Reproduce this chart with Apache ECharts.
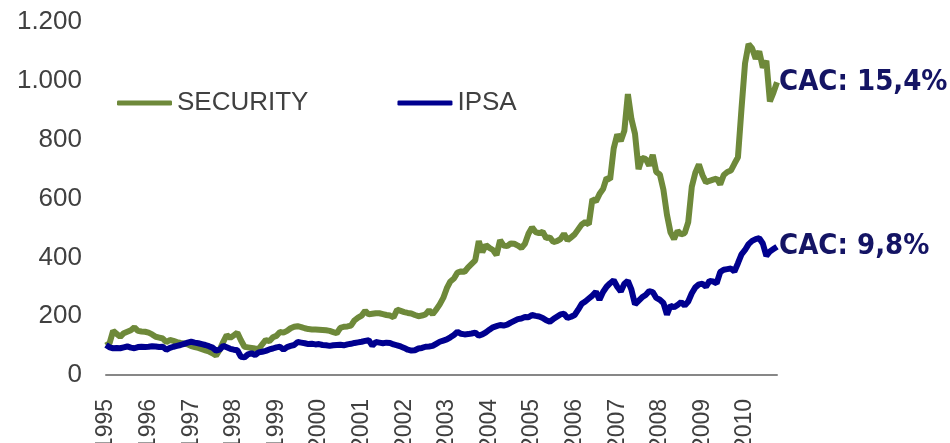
<!DOCTYPE html>
<html>
<head>
<meta charset="utf-8">
<script src="https://cdn.jsdelivr.net/npm/echarts@6/dist/echarts.min.js"></script>
<style>
  html, body { margin: 0; padding: 0; background: #fff; }
  #chart { width: 950px; height: 443px; }
</style>
</head>
<body>
<div id="chart"></div>
<script>
// Monthly categories, Jan 1995 .. Oct 2010
const months = [];
for (let y = 1995; y <= 2010; y++) {
    for (let m = 1; m <= 12; m++) {
        if (y === 2010 && m > 10) break;
        months.push(y + '-' + String(m).padStart(2, '0'));
    }
}

// Index values (base 100)
const security = [
    100, 108, 150, 140, 130, 142, 147, 152, 162, 150, 148, 147,
    144, 138, 130, 127, 124, 112, 119, 116, 112, 109, 107, 104,
    98, 95, 92, 88, 84, 80, 74, 66, 85, 112, 136, 126,
    135, 144, 118, 96, 94, 92, 90, 89, 104, 119, 115, 128,
    133, 146, 144, 150, 159, 164, 166, 163, 159, 156, 155, 155,
    154, 153, 152, 150, 146, 142, 160, 164, 165, 168, 186, 195,
    202, 218, 206, 208, 210, 210, 207, 204, 202, 196, 222, 218,
    214, 211, 209, 204, 200, 202, 206, 220, 207, 222, 240, 262,
    295, 318, 328, 348, 352, 351, 366, 378, 390, 455, 418, 442,
    432, 425, 408, 458, 440, 438, 447, 446, 440, 432, 446, 480,
    502, 486, 482, 487, 465, 468, 452, 455, 462, 480, 458, 468,
    478, 495, 512, 520, 512, 598, 590, 615, 632, 670, 665, 770,
    818, 795, 830, 955, 870, 820, 700, 738, 735, 712, 748, 690,
    682, 630, 545, 485, 462, 490, 478, 482, 520, 640, 688, 716,
    680, 655, 660, 664, 668, 648, 680, 690, 695, 718, 740, 905,
    1060, 1125, 1110, 1075, 1100, 1045, 1068, 930, 960, 995
];
const ipsa = [
    102, 94, 91, 92, 91, 94, 97, 93, 91, 95, 96, 95,
    96, 98, 97, 95, 96, 86, 92, 96, 99, 102, 106, 110,
    113, 110, 108, 105, 102, 98, 93, 83, 86, 99, 94, 89,
    86, 84, 62, 60, 70, 74, 68, 77, 79, 82, 87, 90,
    94, 96, 86, 95, 99, 102, 112, 110, 108, 105, 106, 104,
    105, 102, 101, 99, 101, 102, 103, 101, 104, 106, 109, 111,
    113, 116, 118, 100, 112, 110, 108, 110, 109, 104, 101, 97,
    92, 86, 83, 84, 90, 92, 96, 97, 99, 106, 113, 117,
    121, 128, 136, 147, 140, 138, 139, 141, 144, 134, 138, 145,
    154, 162, 166, 170, 168, 171, 178, 184, 190, 192, 197, 196,
    204, 201, 199, 194, 186, 181, 190, 198, 206, 208, 194, 198,
    204, 222, 242, 250, 260, 270, 283, 256, 282, 300, 312, 322,
    300, 284, 310, 320, 290, 240, 252, 264, 272, 285, 282, 262,
    256, 245, 205, 236, 230, 238, 248, 236, 250, 278, 298, 308,
    310, 300, 320, 318, 312, 350, 358, 360, 362, 352, 380, 410,
    425, 445, 456, 462, 465, 447, 405, 420, 428, 436
];

const seriesNames = ['SECURITY', 'IPSA'];
const endNotes = ['CAC: 15,4%', 'CAC: 9,8%'];
const yTicks = [0, 200, 400, 600, 800, 1000, 1200];

const FONT = "'Liberation Sans', Arial, sans-serif";
const NOTE_FONT = "'DejaVu Sans Condensed', 'DejaVu Sans', sans-serif";
const GREEN = '#6E893A';
const NAVY = '#00008F';

const chart = echarts.init(document.getElementById('chart'));

const option = {
    animation: false,
    grid: {
        left: 106,
        right: 173,
        top: 22,
        bottom: 68,
        outerBoundsMode: 'none'
    },
    legend: {
        data: seriesNames,
        left: 112,
        top: 85,
        icon: 'roundRect',
        itemWidth: 55,
        itemHeight: 5,
        itemGap: 89,
        textStyle: { fontFamily: FONT, fontSize: 26, color: '#404040' }
    },
    xAxis: {
        type: 'category',
        data: months,
        boundaryGap: false,
        axisLine: { lineStyle: { color: '#878787', width: 2 } },
        axisTick: { show: false },
        axisLabel: {
            interval: (idx) => idx % 12 === 0,
            formatter: (v) => v.slice(0, 4),
            rotate: 90,
            margin: 24,
            fontFamily: FONT,
            fontSize: 23,
            color: '#404040'
        },
        splitLine: { show: false }
    },
    yAxis: {
        type: 'value',
        min: yTicks[0],
        max: yTicks[yTicks.length - 1],
        interval: 200,
        axisLine: { show: false },
        axisTick: { show: false },
        splitLine: { show: false },
        axisLabel: {
            margin: 24,
            fontFamily: FONT,
            fontSize: 26,
            color: '#404040',
            formatter: (v) => String(v).replace(/\B(?=(\d{3})+(?!\d))/g, '.')
        }
    },
    series: [
        {
            name: seriesNames[0],
            type: 'line',
            data: security,
            showSymbol: false,
            color: GREEN,
            lineStyle: { color: GREEN, width: 6 },
            endLabel: {
                show: true,
                formatter: endNotes[0],
                distance: 2,
                fontFamily: NOTE_FONT,
                fontSize: 29,
                fontWeight: 'bold',
                color: '#141464'
            }
        },
        {
            name: seriesNames[1],
            type: 'line',
            data: ipsa,
            showSymbol: false,
            color: NAVY,
            lineStyle: { color: NAVY, width: 6 },
            endLabel: {
                show: true,
                formatter: endNotes[1],
                distance: 2,
                fontFamily: NOTE_FONT,
                fontSize: 29,
                fontWeight: 'bold',
                color: '#141464'
            }
        }
    ]
};

chart.setOption(option);
</script>
</body>
</html>
